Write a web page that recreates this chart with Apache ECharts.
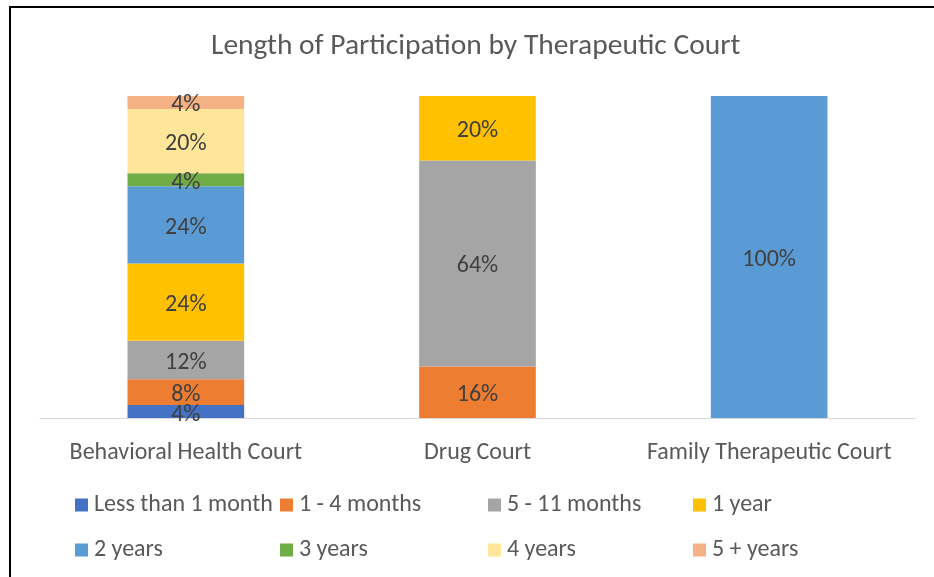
<!DOCTYPE html>
<html>
<head>
<meta charset="utf-8">
<script src="https://cdn.jsdelivr.net/npm/echarts@6/dist/echarts.min.js"></script>
<style>
html,body{margin:0;padding:0;background:#fff;}
#chart{position:absolute;left:0;top:0;width:934px;height:577px;}
#frameL{position:absolute;left:9px;top:6px;width:2px;height:600px;background:#000;}
#frameT{position:absolute;left:9px;top:6px;width:1000px;height:2px;background:#000;}
</style>
</head>
<body>
<div id="chart"></div>
<div id="frameL"></div>
<div id="frameT"></div>
<script>
var categories = ['Behavioral Health Court', 'Drug Court', 'Family Therapeutic Court'];
var seriesNames = ['Less than 1 month', '1 - 4 months', '5 - 11 months', '1 year', '2 years', '3 years', '4 years', '5 + years'];
var lessThan1Month = [4, 0, 0];
var months1to4 = [8, 16, 0];
var months5to11 = [12, 64, 0];
var year1 = [24, 20, 0];
var years2 = [24, 0, 100];
var years3 = [4, 0, 0];
var years4 = [20, 0, 0];
var years5plus = [4, 0, 0];
var seriesValues = [lessThan1Month, months1to4, months5to11, year1, years2, years3, years4, years5plus];
var colors = ['#4472C4', '#ED7D31', '#A5A5A5', '#FFC000', '#5B9BD5', '#70AD47', '#FFE699', '#F4B183'];

var FONT = 'Carlito, Calibri, "Open Sans", sans-serif';
var chart = echarts.init(document.getElementById('chart'));

var legendLefts = [75, 280, 488, 693];
var legendTops = [493, 538];
var legends = seriesNames.map(function (n, i) {
  return {
    data: [n],
    left: legendLefts[i % 4],
    top: legendTops[Math.floor(i / 4)],
    icon: 'rect',
    itemWidth: 13,
    itemHeight: 13,
    itemGap: 0,
    padding: 0,
    selectedMode: false,
    textStyle: { fontFamily: FONT, fontSize: 24, color: '#595959', padding: [0, 0, 0, 1] }
  };
});

var option = {
  animation: false,
  color: colors,
  title: {
    text: 'Length of Participation by Therapeutic Court',
    left: 211,
    top: 32,
    padding: 0,
    textStyle: { fontFamily: FONT, fontSize: 29.5, fontWeight: 'normal', color: '#595959' }
  },
  legend: legends,
  grid: { left: 40, right: 19, top: 96, bottom: 159 },
  xAxis: {
    type: 'category',
    data: categories,
    axisLine: { lineStyle: { color: '#D9D9D9', width: 1 } },
    axisTick: { show: false },
    axisLabel: { fontFamily: FONT, fontSize: 24, color: '#595959', margin: 23, interval: 0 }
  },
  yAxis: {
    type: 'value',
    min: 0,
    max: 100,
    show: false,
    splitLine: { show: false }
  },
  series: seriesNames.map(function (n, i) {
    return {
      name: n,
      type: 'bar',
      stack: 'total',
      barWidth: '40%',
      data: seriesValues[i],
      itemStyle: { color: colors[i] },
      label: {
        show: true,
        position: 'inside',
        offset: [0, 3],
        fontFamily: FONT,
        fontSize: 24,
        color: '#404040',
        formatter: function (p) { return p.value ? p.value + '%' : ''; }
      }
    };
  })
};
chart.setOption(option);
</script>
</body>
</html>
